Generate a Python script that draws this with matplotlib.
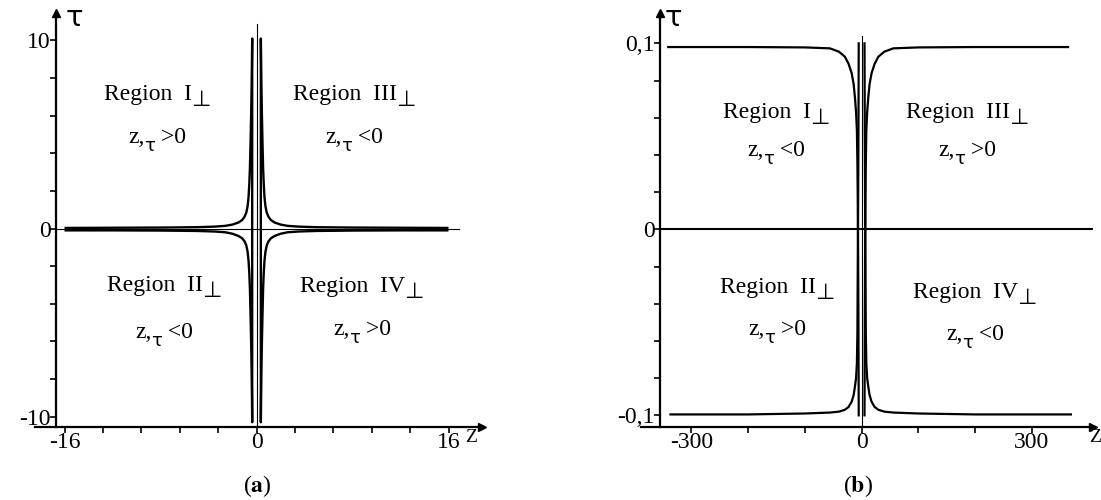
import matplotlib.pyplot as plt

plt.rcParams['font.family'] = ['Liberation Serif', 'DejaVu Serif']
plt.rcParams['mathtext.fontset'] = 'stix'

# ---- panel (a): four hyperbola-like branches ----
a_z_abs = [0.36, 0.38, 0.41, 0.45, 0.50, 0.55, 0.60, 0.66, 0.74, 0.85, 1.0,
           1.2, 1.5, 2.0, 2.6, 3.5, 5.0, 8.0, 12.0, 15.9]
a_tau_upper = [10.1, 9.0, 7.5, 6.0, 4.5, 3.2, 2.4, 1.7, 1.2, 0.85, 0.62,
               0.45, 0.32, 0.21, 0.14, 0.1, 0.07, 0.05, 0.04, 0.03]
a_tau_lower = [-10.3, -9.0, -7.5, -6.0, -4.5, -3.2, -2.4, -1.75, -1.25, -0.9, -0.68,
               -0.52, -0.4, -0.28, -0.2, -0.16, -0.13, -0.11, -0.1, -0.1]
a_xticks = [-16, -12.8, -9.6, -6.4, -3.2, 0, 3.2, 6.4, 9.6, 12.8, 16]
a_xlabels = ['-16', '', '', '', '', '0', '', '', '', '', '16']
a_yticks = [-10, -8, -6, -4, -2, 0, 2, 4, 6, 8, 10]
a_ylabels = ['-10', '', '', '', '', '0', '', '', '', '', '10']
a_regions = [('I', '>0'), ('III', '<0'), ('II', '<0'), ('IV', '>0')]

# ---- panel (b): two step-like curves ----
b_z_abs = [5.1, 5.6, 6.2, 6.8, 7.4, 8.3, 9.8, 11.8, 14, 17.6, 23, 29.5, 40, 56, 100, 200]
b_tau_top = [-0.1, -0.05, -0.01, 0.015, 0.035, 0.053, 0.063, 0.071, 0.078, 0.084,
             0.089, 0.0928, 0.0955, 0.0973, 0.0978, 0.098]
b_tau_bottom = [0.1, 0.05, 0.01, -0.02, -0.055, -0.072, -0.08, -0.0846, -0.089, -0.0927,
                -0.0955, -0.097, -0.098, -0.0985, -0.099, -0.0995]
b_top_ends = [-341, 364]
b_bottom_ends = [-337, 369]
b_xticks = [-300, -200, -100, 0, 100, 200, 300]
b_xlabels = ['-300', '', '', '0', '', '', '300']
b_yticks = [-0.1, -0.08, -0.06, -0.04, -0.02, 0, 0.02, 0.04, 0.06, 0.08, 0.1]
b_ylabels = ['-0,1', '', '', '', '', '0', '', '', '', '', '0,1']
b_regions = [('I', '<0'), ('III', '>0'), ('II', '>0'), ('IV', '<0')]

W, H = 1101, 500
fig = plt.figure(figsize=(W / 100, H / 100), dpi=100)
renderer = fig.canvas.get_renderer()


def px_axes(l, r, t, b):
    return fig.add_axes([l / W, 1 - b / H, (r - l) / W, (b - t) / H])


def setup(ax, xlim, ylim, yaxis_x, xticks, xlabels, yticks, ylabels):
    ax.set_xlim(xlim)
    ax.set_ylim(ylim)
    ax.patch.set_alpha(0)
    for s in ('top', 'right'):
        ax.spines[s].set_visible(False)
    ax.spines['left'].set_position(('data', yaxis_x))
    for s in ('left', 'bottom'):
        ax.spines[s].set_linewidth(1.6)
    ax.set_xticks(xticks, xlabels)
    ax.set_yticks(yticks, ylabels)
    ax.tick_params(direction='out', length=4, width=1.2, labelsize=17, pad=0)
    ax.plot([1], [0], marker='>', ms=6, color='k', transform=ax.transAxes, clip_on=False)
    ax.plot([yaxis_x], [1], marker='^', ms=6, color='k',
            transform=ax.get_xaxis_transform(), clip_on=False)


def rich(xc, base, pieces):
    # pieces: (text, fontsize, drop_px, family, kern_px); laid out left to right, centred on xc
    texts, widths = [], []
    for s, fs, drop, fam, kern in pieces:
        t = fig.text(0, 0, s, fontsize=fs, ha='left', va='baseline', family=fam)
        texts.append((t, drop, kern))
        widths.append(t.get_window_extent(renderer).width + kern)
    x = xc - sum(widths) / 2
    for (t, drop, kern), w in zip(texts, widths):
        t.set_position(((x + kern) / W, 1 - (base + drop) / H))
        x += w


SERIF = ['Liberation Serif', 'DejaVu Serif']
SANS = ['DejaVu Sans']


def region(xc, base1, base2, num, sign):
    rich(xc, base1, [('Region  ' + num, 17, 0, SERIF, 0), ('⊥', 16, 6, SANS, -1)])
    rich(xc, base2, [('z,', 17, 0, SERIF, 0), ('τ', 13, 8, SANS, 0),
                     (' ' + sign, 17, 0, SERIF, 0)])


# panel (a)
ax1 = px_axes(35, 482, 13, 426.7)
setup(ax1, (-18.46, 18.79), (-10.54, 11.46), -16.7,
      a_xticks, a_xlabels, a_yticks, a_ylabels)
ax1.plot([0, 0], [-10.54, 10.9], color='k', lw=0.8)
ax1.plot([-16.7, 16.9], [0, 0], color='k', lw=0.8)
for sgn in (-1, 1):
    zs = [sgn * v for v in a_z_abs]
    ax1.plot(zs[::-1] + zs, a_tau_upper[::-1] + a_tau_lower, color='k', lw=1.7,
             solid_joinstyle='round')

# panel (b)
ax2 = px_axes(641, 1093, 13, 426.7)
setup(ax2, (-389, 408), (-0.1061, 0.1163), -355,
      b_xticks, b_xlabels, b_yticks, b_ylabels)
ax2.plot([0, 0], [-0.1061, 0.104], color='k', lw=0.8)
ax2.plot([-355, 408], [0, 0], color='k', lw=1.5)
for sgn, i in ((-1, 0), (1, 1)):
    zs = [sgn * v for v in b_z_abs]
    ax2.plot(zs + [b_top_ends[i]], b_tau_top + [b_tau_top[-1]], color='k', lw=1.6)
    ax2.plot(zs + [b_bottom_ends[i]], b_tau_bottom + [b_tau_bottom[-1]], color='k', lw=1.6)

# region annotations (pixel positions: centre x, baselines)
a_pos = [(157, 100, 143), (354, 100, 143), (164, 291, 338), (362, 292, 335)]
b_pos = [(776, 118, 156), (967, 118, 156), (777, 293, 335), (975, 298, 340)]
for (num, sign), (x, b1, b2) in list(zip(a_regions, a_pos)) + list(zip(b_regions, b_pos)):
    region(x, b1, b2, num, sign)

# axis names
for x in (74, 673):
    fig.text(x / W, 1 - 18 / H, 'τ', fontsize=21, ha='center', va='center',
             family='DejaVu Sans')
for x in (471, 1095):
    fig.text(x / W, 1 - 438 / H, 'Z', fontsize=14, ha='center', va='center')

fig.text(257 / W, 1 - 486 / H, '($\\mathbf{a}$)', fontsize=17, ha='center', va='center')
fig.text(858 / W, 1 - 486 / H, '($\\mathbf{b}$)', fontsize=17, ha='center', va='center')

fig.savefig('out.png', dpi=100)
